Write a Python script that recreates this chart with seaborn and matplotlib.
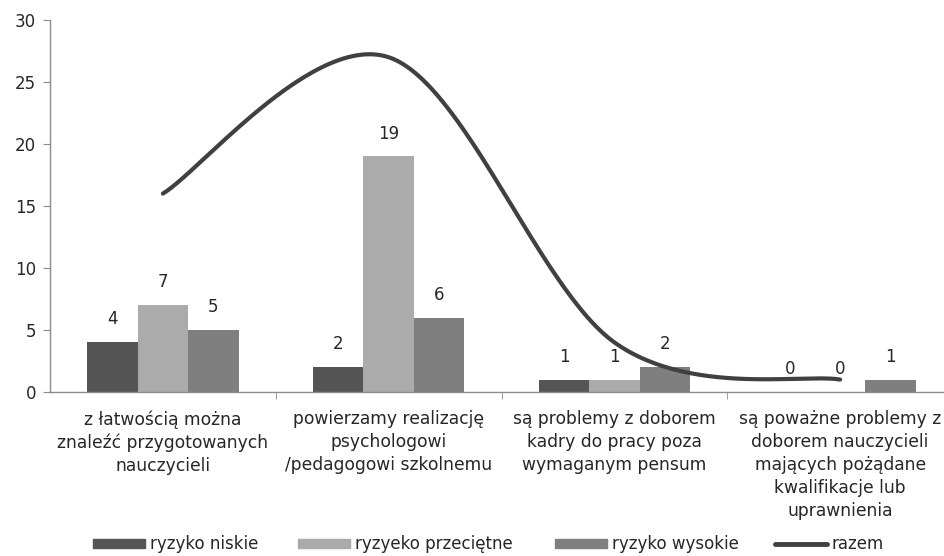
import numpy as np
import pandas as pd
import matplotlib
matplotlib.use('Agg')
import matplotlib.pyplot as plt
import seaborn as sns

# Data
categories = [
    'z łatwością można\nznaleźć przygotowanych\nnauczycieli',
    'powierzamy realizację\npsychologowi\n/pedagogowi szkolnemu',
    'są problemy z doborem\nkadry do pracy poza\nwymaganym pensum',
    'są poważne problemy z\ndoborem nauczycieli\nmających pożądane\nkwalifikacje lub\nuprawnienia',
]
series_names = ['ryzyko niskie', 'ryzyeko przeciętne', 'ryzyko wysokie']
niskie = [4, 2, 1, 0]
przecietne = [7, 19, 1, 0]
wysokie = [5, 6, 2, 1]
razem = [16, 27, 4, 1]

colors = ['#555555', '#ababab', '#7f7f7f']
line_color = '#404040'
text_color = '#262626'

df = pd.DataFrame({
    'kategoria': categories * 3,
    'seria': [s for s in series_names for _ in categories],
    'wartosc': niskie + przecietne + wysokie,
})

sns.set_style('white')
plt.rcParams['font.family'] = ['DejaVu Sans']

fig = plt.figure(figsize=(9.44, 5.56), dpi=100)
ax = fig.add_axes([0.053, 0.295, 0.947, 0.669])

sns.barplot(data=df, x='kategoria', y='wartosc', hue='seria', palette=colors,
            width=0.67, saturation=1, ax=ax, legend=False,
            edgecolor='none')

for cont in ax.containers:
    ax.bar_label(cont, padding=10, fontsize=12, color=text_color)


# smoothed total line (Catmull-Rom, like Excel's smoothed line)
def smooth(xs, ys, n=60):
    p = np.column_stack([xs, ys]).astype(float)
    p = np.vstack([p[0], p, p[-1]])
    out = []
    for i in range(1, len(p) - 2):
        p0, p1, p2, p3 = p[i - 1], p[i], p[i + 1], p[i + 2]
        t = np.linspace(0, 1, n)[:, None]
        seg = 0.5 * ((2 * p1) + (-p0 + p2) * t + (2 * p0 - 5 * p1 + 4 * p2 - p3) * t ** 2
                     + (-p0 + 3 * p1 - 3 * p2 + p3) * t ** 3)
        out.append(seg)
    return np.vstack(out)


curve = smooth(np.arange(len(razem)), razem)
ax.plot(curve[:, 0], curve[:, 1], color=line_color, lw=3, solid_capstyle='round')

ax.set_ylim(0, 30)
ax.set_yticks(range(0, 31, 5))
ax.set_xlim(-0.5, 3.46)
ax.set_xlabel('')
ax.set_ylabel('')

for side in ['top', 'right']:
    ax.spines[side].set_visible(False)
for side in ['left', 'bottom']:
    ax.spines[side].set_color('#8c8c8c')
    ax.spines[side].set_linewidth(1)

ax.tick_params(axis='x', length=0, pad=13, labelsize=12.3, labelcolor=text_color)
ax.tick_params(axis='y', length=5, color='#8c8c8c', direction='out', pad=5,
               labelsize=12, labelcolor=text_color, left=True)
ax.set_xticks([0.5, 1.5, 2.5], minor=True)
ax.tick_params(axis='x', which='minor', length=5, color='#8c8c8c', bottom=True)
for lbl in ax.get_xticklabels():
    lbl.set_linespacing(1.36)

# legend entries placed like the original
legend_x = [93, 298, 555, 775]
legend_labels = series_names + ['razem']
legend_handles = [plt.Rectangle((0, 0), 1, 1, color=c) for c in colors]
legend_handles.append(plt.Line2D([0], [0], color=line_color, lw=3.5, solid_capstyle='round'))
for xpos, h, lab in zip(legend_x, legend_handles, legend_labels):
    fig.legend([h], [lab], loc='center left', bbox_to_anchor=(xpos / 944, 1 - 544 / 556),
               frameon=False, fontsize=12, handlelength=3.1, handleheight=0.45,
               handletextpad=0.3, borderpad=0, borderaxespad=0, labelcolor=text_color)

fig.savefig('out.png', dpi=100)
